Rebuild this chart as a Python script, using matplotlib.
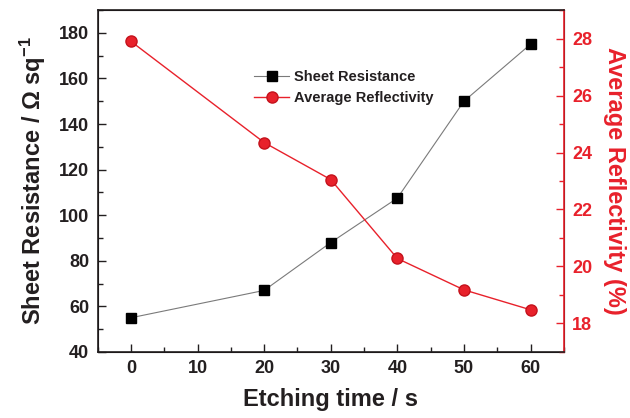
import matplotlib
matplotlib.use("Agg")
import matplotlib.pyplot as plt
import matplotlib as mpl
from matplotlib.ticker import MultipleLocator

mpl.rcParams['font.family'] = ['Liberation Sans', 'DejaVu Sans']
mpl.rcParams['font.weight'] = 'bold'
mpl.rcParams['axes.labelweight'] = 'bold'
mpl.rcParams['mathtext.fontset'] = 'custom'
mpl.rcParams['mathtext.rm'] = 'Liberation Sans:bold'
mpl.rcParams['mathtext.bf'] = 'Liberation Sans:bold'
mpl.rcParams['mathtext.default'] = 'bf'

# data
etch_time = [0, 20, 30, 40, 50, 60]
sheet_res = [55, 67, 88, 107.5, 150, 175]
reflectivity = [27.9, 24.35, 23.05, 20.28, 19.18, 18.48]

DARK = '#231f20'
RED = '#e8212b'

fig, ax = plt.subplots(figsize=(6.3, 4.18), dpi=100)
ax2 = ax.twinx()

l1, = ax.plot(etch_time, sheet_res, '-', color='#7a7a7a', lw=0.8,
              marker='s', ms=7, mfc='black', mec='black', label='Sheet Resistance')
l2, = ax2.plot(etch_time, reflectivity, '-', color=RED, lw=1.0,
               marker='o', ms=8, mfc=RED, mec='#c4121c', label='Average Reflectivity')

ax.set_xlim(-5, 65)
ax.set_ylim(40, 190)
ax2.set_ylim(17, 29)

ax.xaxis.set_major_locator(MultipleLocator(10))
ax.xaxis.set_minor_locator(MultipleLocator(5))
ax.yaxis.set_major_locator(MultipleLocator(20))
ax.yaxis.set_minor_locator(MultipleLocator(10))
ax2.yaxis.set_major_locator(MultipleLocator(2))
ax2.yaxis.set_minor_locator(MultipleLocator(1))

ax.tick_params(axis='both', which='major', direction='in', length=6, width=1,
               labelsize=13, colors=DARK, pad=6)
ax.tick_params(axis='both', which='minor', direction='in', length=3.5, width=1, colors=DARK)
ax.tick_params(axis='y', which='both', right=False)
ax.tick_params(axis='x', which='both', top=False)
ax2.tick_params(axis='y', which='major', direction='in', length=6, width=1,
                labelsize=13, colors=RED, pad=6)
ax2.tick_params(axis='y', which='minor', direction='in', length=3.5, width=1, colors=RED)

for sp in ['left', 'bottom', 'top']:
    ax2.spines[sp].set_color(DARK)
    ax2.spines[sp].set_linewidth(1.2)
ax2.spines['right'].set_color(RED)
ax2.spines['right'].set_linewidth(1.2)

ax.set_xlabel('Etching time / s', fontsize=17, color=DARK, labelpad=8)
ax.set_ylabel('Sheet Resistance / Ω sq$^{-1}$', fontsize=17, color=DARK, labelpad=8)
ax2.set_ylabel('Average Reflectivity (%)', fontsize=17, color=RED, rotation=270, labelpad=24)

leg = ax.legend(handles=[l1, l2], loc='upper left', bbox_to_anchor=(0.32, 0.845),
                frameon=False, fontsize=10.5, handlelength=2.4, handletextpad=0.3,
                labelspacing=0.45, borderpad=0)
for t in leg.get_texts():
    t.set_color(DARK)

fig.subplots_adjust(left=0.155, right=0.895, top=0.976, bottom=0.158)
fig.savefig('out.png', dpi=100)
